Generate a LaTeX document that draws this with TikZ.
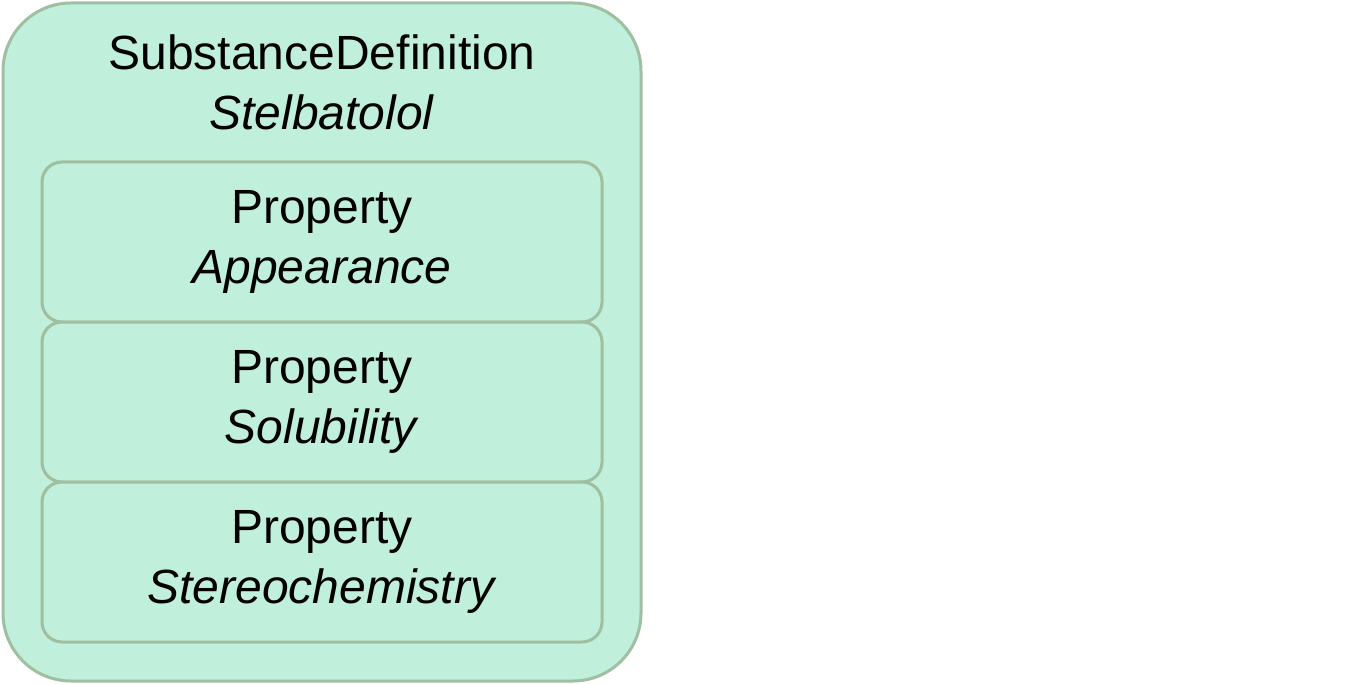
\documentclass[tikz,border=0pt]{standalone}
\usepackage{fontspec}
\setmainfont{Liberation Sans}
\usetikzlibrary{positioning}
\definecolor{sd_fill}{RGB}{192, 239, 219}
\definecolor{sd_line}{RGB}{160, 190, 160}
\tikzstyle{sdbox}=[rectangle,rounded corners=68pt*0.75,fill=sd_fill,draw=sd_line,
  line width=2.25pt,minimum width=638*0.75pt,minimum height=678*0.75pt]
\tikzstyle{propbox}=[rectangle,rounded corners=15pt,fill=sd_fill,draw=sd_line,
  line width=2.25pt,minimum width=560*0.75pt,minimum height=160*0.75pt,
  align=center,font=\fontsize{36pt}{45pt}\selectfont]
\tikzstyle{title}=[align=center,font=\fontsize{36pt}{45pt}\selectfont]

\begin{document}
\begin{tikzpicture}[x=0.75pt,y=-0.75pt]
        \useasboundingbox (0,0) rectangle (1356,684);
        \node [style=sdbox] (sd) at (322,342) {};
        \node [style=title] (sdname) at (322,82) {SubstanceDefinition\\\textit{Stelbatolol}};
        \node [style=propbox] (p1) at (322,242) {\raisebox{-3pt}{Property}\\\raisebox{-3pt}{\textit{Appearance}}};
        \node [style=propbox] (p2) at (322,402) {\raisebox{-3pt}{Property}\\\raisebox{-3pt}{\textit{Solubility}}};
        \node [style=propbox] (p3) at (322,562) {\raisebox{-3pt}{Property}\\\raisebox{-3pt}{\textit{Stereochemistry}}};
    \end{tikzpicture}
\end{document}
